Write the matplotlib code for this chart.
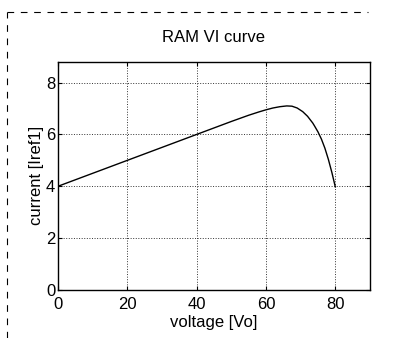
import numpy as np
import matplotlib
matplotlib.use('Agg')
import matplotlib.pyplot as plt
from matplotlib.lines import Line2D

# VI curve
voltage = [0, 10, 20, 30, 40, 50, 55, 58, 60, 62, 64, 66, 67.5, 69, 70.6, 72, 73.5,
           74, 75, 76, 77, 78, 79, 79.5, 80]
current = [4.0, 4.5, 5.0, 5.5, 6.0, 6.5, 6.74, 6.87, 6.95, 7.02, 7.07, 7.1, 7.09, 7.02,
           6.88, 6.7, 6.44, 6.33, 6.1, 5.82, 5.47, 5.04, 4.54, 4.26, 3.98]

xticks = [0, 20, 40, 60, 80]
yticks = [0, 2, 4, 6, 8]

plt.rcParams['font.family'] = ['Liberation Sans', 'DejaVu Sans']

fig = plt.figure(figsize=(3.94, 3.38), dpi=100)
ax = fig.add_axes([0.147, 0.142, 0.792, 0.675])

ax.plot(voltage, current, color='black', lw=1.0)

ax.set_xlim(0, 90)
ax.set_ylim(0, 8.8)
ax.set_xticks(xticks)
ax.set_yticks(yticks)
ax.tick_params(direction='in', top=True, right=True, labelsize=12, length=3)
ax.tick_params(axis='x', pad=5)
ax.tick_params(axis='y', pad=2)
ax.grid(True, linestyle=':', color='#333333', lw=0.7)
for s in ax.spines.values():
    s.set_linewidth(1.0)

ax.set_title('RAM VI curve', fontsize=12, pad=14)
ax.set_xlabel('voltage [Vo]', fontsize=12, labelpad=2)
ax.set_ylabel('current [Iref1]', fontsize=12, labelpad=1)

# dashed frame remains from the scanned page
fig.add_artist(Line2D([0.018, 0.018], [0.0, 0.965], transform=fig.transFigure,
                      color='black', lw=0.8, ls=(0, (6, 6))))
fig.add_artist(Line2D([0.018, 0.935], [0.965, 0.965], transform=fig.transFigure,
                      color='black', lw=0.8, ls=(0, (6, 6))))

fig.savefig('out.png', dpi=100)
